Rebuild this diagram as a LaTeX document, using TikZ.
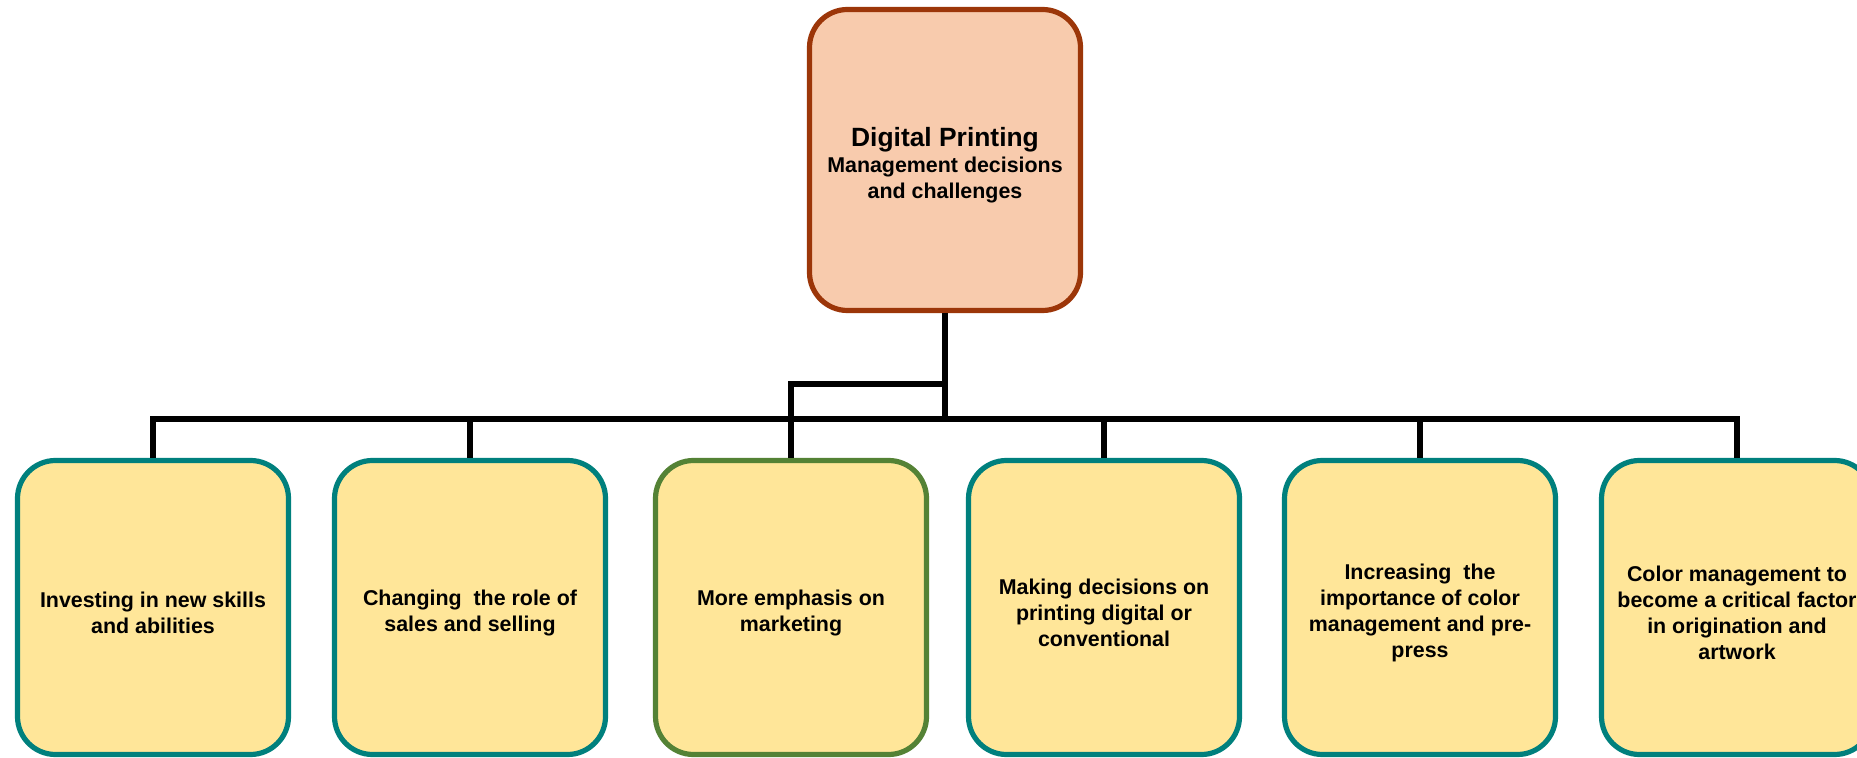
\documentclass[tikz,border=0pt]{standalone}
\usepackage{fontspec}
\setmainfont{Liberation Sans}
\definecolor{peach}{HTML}{F8CBAD}
\definecolor{rust}{HTML}{9C3609}
\definecolor{paleyellow}{HTML}{FFE699}
\definecolor{tealb}{HTML}{00807D}
\definecolor{greenb}{HTML}{548235}
\newcommand{\leadstrut}{\rule{0pt}{13.2pt}}
\begin{document}
\begin{tikzpicture}[x=0.5pt,y=-0.5pt,
  topbox/.style={draw=rust,fill=peach,line width=2.6pt,rounded corners=19pt,
    minimum width=135.5pt,minimum height=150.5pt,align=center,inner sep=0pt,
    font=\bfseries\fontsize{10.7pt}{12.85pt}\selectfont},
  leafbox/.style={draw=tealb,fill=paleyellow,line width=2.6pt,rounded corners=19pt,
    minimum width=135.5pt,minimum height=147pt,align=center,inner sep=0pt,
    font=\bfseries\fontsize{10.7pt}{13.1pt}\selectfont},
  greenleaf/.style={leafbox,draw=greenb},
  conn/.style={draw=black,line width=2.7pt},
  thinconn/.style={draw=black,line width=2.6pt}
]
\useasboundingbox (0,0) rectangle (1857,758);

\node[topbox] (top) at (945,160) {\rule{0pt}{14.6pt}{\fontsize{13.2pt}{15pt}\selectfont Digital Printing}\\Management decisions\\and challenges};

\node[leafbox] (b1) at (153,607.5) {\leadstrut Investing in new skills\\and abilities};
\node[leafbox] (b2) at (470,607.5) {\leadstrut Changing\ \ the role of\\sales and selling};
\node[greenleaf] (b3) at (791,607.5) {\leadstrut More emphasis on\\marketing};
\node[leafbox] (b4) at (1104,607.5) {\leadstrut Making decisions on\\printing digital or\\conventional};
\node[leafbox] (b5) at (1420,607.5) {\leadstrut Increasing\ \ the\\importance of color\\management and pre-\\press};
\node[leafbox] (b6) at (1737,607.5) {\leadstrut Color management to\\become a critical factor\\in origination and\\artwork};

\coordinate (barY) at (0,419);
\coordinate (elbowY) at (0,384);

\draw[conn] (top.south) -- (top.south |- barY);
\draw[conn] (b1.north) -- (b1.north |- barY) -- (b6.north |- barY) -- (b6.north);
\draw[conn] (b2.north |- barY) -- (b2.north);
\draw[conn] (b4.north |- barY) -- (b4.north);
\draw[conn] (b5.north |- barY) -- (b5.north);
\draw[thinconn] (top.south |- elbowY) -- (b3.north |- elbowY) -- (b3.north);
\end{tikzpicture}
\end{document}
